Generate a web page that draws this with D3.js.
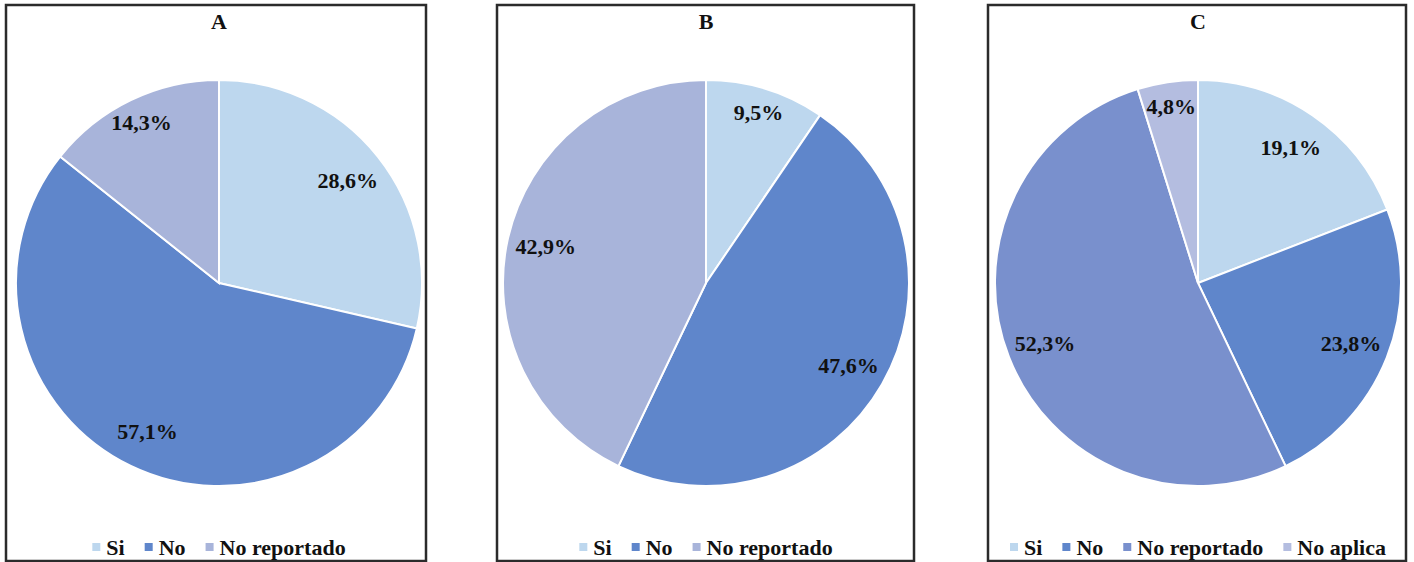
<!DOCTYPE html>
<html>
<head>
<meta charset="utf-8">
<script src="https://cdn.jsdelivr.net/npm/d3@7"></script>
<style>
  body { margin: 0; background: #fff; }
</style>
</head>
<body>
<svg width="1414" height="562"></svg>
<script>
const titles = ['A', 'B', 'C'];
const categoriesAB = ['Si', 'No', 'No reportado'];
const categoriesC = ['Si', 'No', 'No reportado', 'No aplica'];
const valuesA = [28.6, 57.1, 14.3];
const valuesB = [9.5, 47.6, 42.9];
const valuesC = [19.1, 23.8, 52.3, 4.8];
const colorsAB = ['#bdd7ee', '#5f86cb', '#a8b4da'];
const colorsC = ['#bdd7ee', '#5f86cb', '#7990cd', '#b4bde0'];

const FONT = 'Liberation Serif';

const panels = [
  {title: titles[0], cats: categoriesAB, vals: valuesA, colors: colorsAB, x0: 6, x1: 426, cx: 219},
  {title: titles[1], cats: categoriesAB, vals: valuesB, colors: colorsAB, x0: 497, x1: 914, cx: 706},
  {title: titles[2], cats: categoriesC, vals: valuesC, colors: colorsC, x0: 988, x1: 1406, cx: 1198}
];

const boxTop = 5, boxBottom = 561;
const radius = 203;
const cy = 283;

const svg = d3.select('svg');

const pie = d3.pie().sort(null).value(function(d) { return d; });
const arc = d3.arc().innerRadius(0).outerRadius(radius);
const labelArc = d3.arc().innerRadius(radius * 0.81).outerRadius(radius * 0.81);
const smallLabelArc = d3.arc().innerRadius(radius * 0.88).outerRadius(radius * 0.88);

function txt(sel) {
  return sel.attr('font-family', FONT)
    .attr('font-weight', 'bold')
    .attr('fill', '#111');
}

panels.forEach(function(p) {
  const cx = p.cx;
  const color = d3.scaleOrdinal().domain(p.cats).range(p.colors);

  svg.append('rect')
    .attr('x', p.x0)
    .attr('y', boxTop)
    .attr('width', p.x1 - p.x0)
    .attr('height', boxBottom - boxTop)
    .attr('fill', 'none')
    .attr('stroke', '#2b2b2b')
    .attr('stroke-width', 2.5);

  svg.append('text')
    .call(txt)
    .attr('x', cx)
    .attr('y', 29)
    .attr('text-anchor', 'middle')
    .attr('font-size', 22)
    .text(p.title);

  const g = svg.append('g')
    .attr('transform', `translate(${cx}, ${cy})`);

  const arcs = pie(p.vals);

  g.selectAll('path').data(arcs)
    .enter().append('path')
    .attr('d', arc)
    .attr('fill', function(d, i) { return color(p.cats[i]); })
    .attr('stroke', '#fff')
    .attr('stroke-width', 2);

  g.selectAll('.lbl').data(arcs)
    .enter().append('text')
    .attr('class', 'lbl')
    .call(txt)
    .attr('transform', function(d) {
      const c = d.value < 15 ? smallLabelArc.centroid(d) : labelArc.centroid(d);
      return `translate(${c[0]}, ${c[1]})`;
    })
    .attr('text-anchor', 'middle')
    .attr('dy', '0.35em')
    .attr('font-size', 22)
    .text(function(d) { return d.value.toFixed(1).replace('.', ',') + '%'; });

  // legend
  const leg = svg.append('g');
  let x = 0;
  p.cats.forEach(function(c) {
    const it = leg.append('g').attr('transform', `translate(${x}, 0)`);
    it.append('rect')
      .attr('x', 0)
      .attr('y', -4)
      .attr('width', 8)
      .attr('height', 8)
      .attr('fill', color(c));
    const t = it.append('text')
      .call(txt)
      .attr('x', 14)
      .attr('dy', '0.35em')
      .attr('font-size', 22)
      .text(c);
    x += 14 + t.node().getComputedTextLength() + 20;
  });
  const w = x - 20;
  leg.attr('transform', `translate(${cx - w / 2}, 547)`);
});
</script>
</body>
</html>
